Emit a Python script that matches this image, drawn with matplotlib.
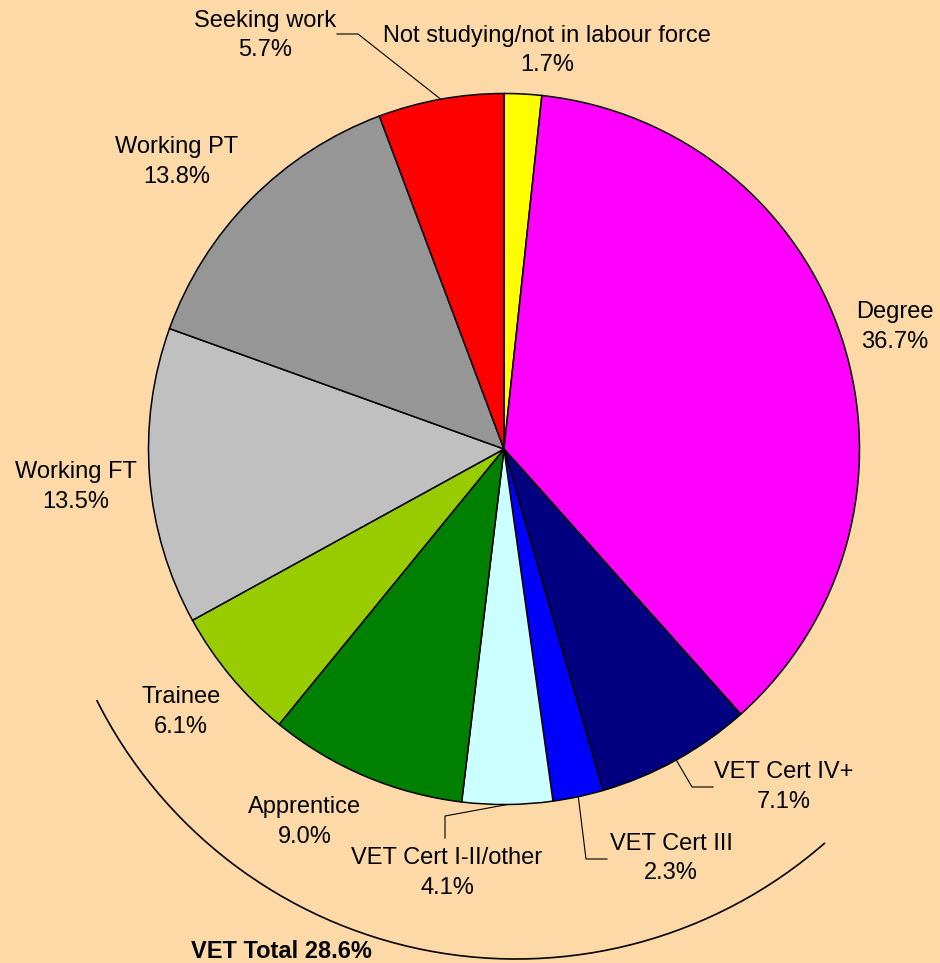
import matplotlib
matplotlib.use("Agg")
import matplotlib.pyplot as plt
from matplotlib.patches import Arc
import numpy as np

# ---- data ----
labels = ["Not studying/not in labour force", "Degree", "VET Cert IV+", "VET Cert III",
          "VET Cert I-II/other", "Apprentice", "Trainee", "Working FT", "Working PT",
          "Seeking work"]
shares = [1.7, 36.7, 7.1, 2.3, 4.1, 9.0, 6.1, 13.5, 13.8, 5.7]
vet_total_label = "VET Total 28.6%"

# ---- style ----
colors = ["#FFFF00", "#FF00FF", "#000080", "#0000FF", "#CCFFFF", "#008000",
          "#99CC00", "#C0C0C0", "#969696", "#FF0000"]
BG = "#FCD9A6"
FONT = "Liberation Sans"
FS = 17

W, H = 940, 963
CX, CY, R = 504, 449, 355.5

# label block centres (pixel layout, y down)
label_pos = [(547, 50.5), (895, 327), (784, 787), (671, 858.5), (447, 873),
             (305, 822), (181, 712), (75.5, 487), (177, 162), (265, 35.5)]
# leader line elbows for labels placed away from their wedge
leaders = {9: [(358, 34), (337, 34)],
           2: [(692, 787), (713, 787)],
           3: [(586, 859), (607, 859)],
           4: [(445, 816), (445, 838)]}

fig = plt.figure(figsize=(W / 100, H / 100), dpi=100)
fig.patch.set_facecolor(BG)
ax = fig.add_axes([0, 0, 1, 1])
ax.set_facecolor(BG)

# y axis inverted below -> start at 270 (visual top), counterclock=True is visually clockwise
ax.pie(shares, colors=colors, startangle=270, counterclock=True, center=(CX, CY),
       radius=R, wedgeprops=dict(edgecolor="black", linewidth=1.1), frame=False)

ax.set_xlim(0, W)
ax.set_ylim(H, 0)
ax.set_aspect("equal")
ax.axis("off")

total = sum(shares)
cum = np.cumsum([0] + shares[:-1])
for i, (lab, v) in enumerate(zip(labels, shares)):
    mid = 270 + 360 * (cum[i] + v / 2) / total
    ex = CX + R * np.cos(np.radians(mid))
    ey = CY + R * np.sin(np.radians(mid))
    if i in leaders:
        pts = [(ex, ey)] + leaders[i]
        ax.plot([p[0] for p in pts], [p[1] for p in pts], color="black", lw=0.8)
    x, y = label_pos[i]
    ax.text(x, y, f"{lab}\n{v:.1f}%", ha="center", va="center", fontsize=FS,
            family=FONT, color="black", linespacing=1.47)

# VET bracket arc
ax.add_patch(Arc((516, 490), 2 * 469, 2 * 469, theta1=48.8, theta2=153.4,
                 color="black", lw=1.2))
ax.text(281, 951, vet_total_label, ha="center", va="center", fontsize=FS,
        family=FONT, fontweight="bold", color="black")

fig.savefig("out.png", dpi=100, facecolor=BG)
